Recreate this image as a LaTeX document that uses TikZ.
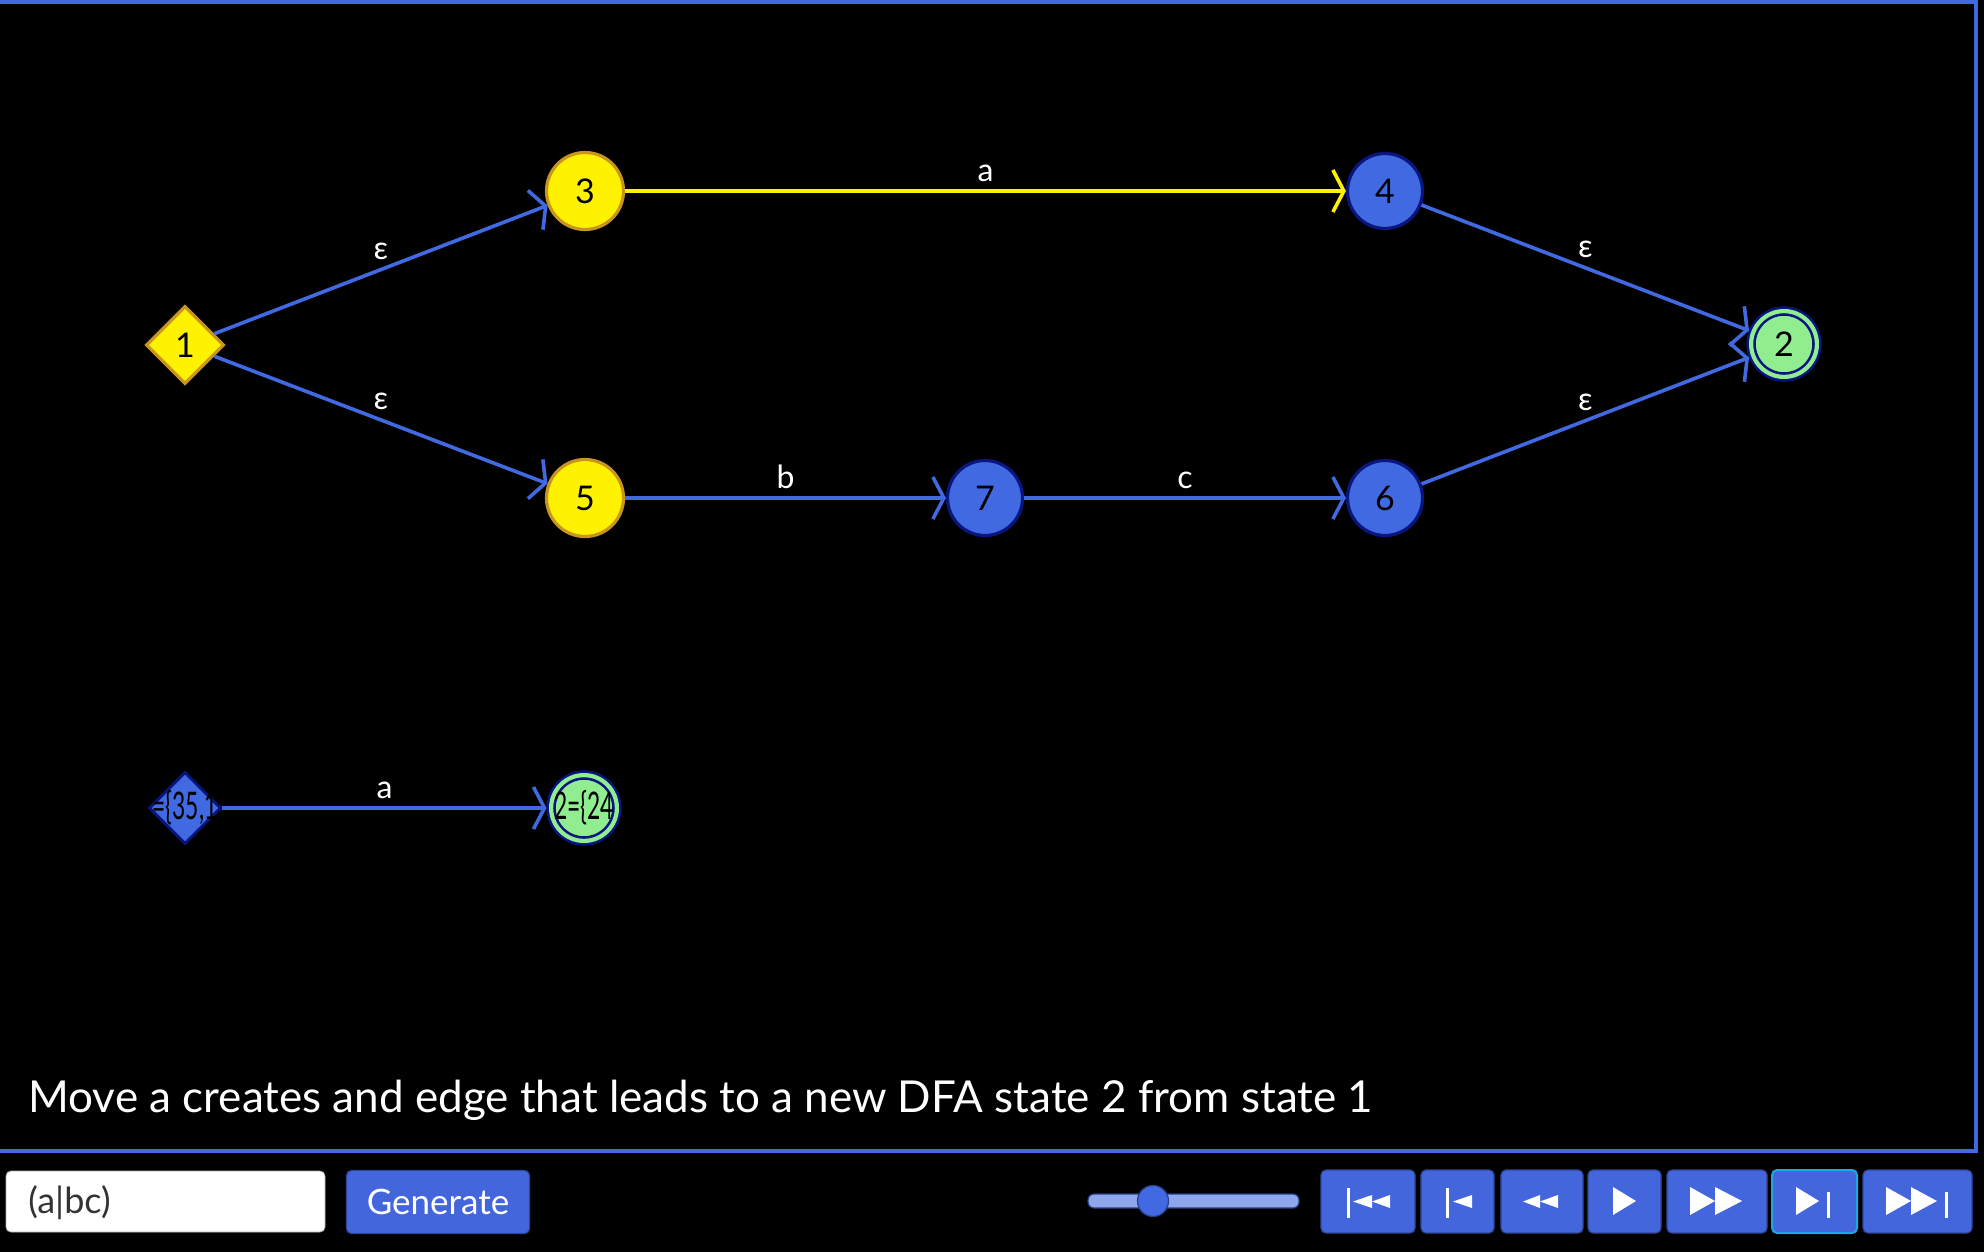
\documentclass[tikz,border=0pt]{standalone}
\usepackage{fontspec}
\setmainfont{Lato}
\usetikzlibrary{arrows.meta,shapes.geometric}

\definecolor{edgeBlue}{HTML}{4169E1}
\definecolor{stateNavy}{HTML}{0A1580}
\definecolor{startGold}{HTML}{C8961E}
\definecolor{finalGreen}{HTML}{90EE90}
\definecolor{panelBlue}{HTML}{4466DD}
\definecolor{activeCyan}{HTML}{1EA8E0}
\definecolor{trackBlue}{HTML}{8EA6EC}

\tikzset{
  nfa/.style={circle, inner sep=0pt, line width=1.6pt, text=black, font=\fontsize{17}{20}\selectfont},
  nfaYellow/.style={nfa, minimum size=38.5pt, fill=yellow, draw=startGold},
  nfaBlue/.style={nfa, minimum size=37.5pt, fill=edgeBlue, draw=stateNavy},
  startDia/.style={diamond, aspect=1, inner sep=0pt, line width=1.6pt, minimum size=39pt,
    fill=yellow, draw=startGold, text=black, font=\fontsize{17}{20}\selectfont},
  dfaStart/.style={diamond, aspect=1, inner sep=0pt, line width=1.4pt, minimum size=36pt,
    fill=edgeBlue, draw=stateNavy},
  finalState/.style={circle, inner sep=0pt, minimum size=32.9pt, fill=finalGreen, draw=stateNavy,
    line width=1.3pt, double=finalGreen, double distance=2.1pt, outer sep=2.3pt,
    text=black, font=\fontsize{17}{20}\selectfont},
  dfaText/.style={inner sep=0pt, text=black, font=\fontsize{19}{21}\selectfont},
  trans/.style={edgeBlue, line width=1.8pt, -{Straight Barb[length=5.5pt,width=21pt]}},
  lbl/.style={text=white, font=\fontsize{16}{19}\selectfont, anchor=base, yshift=5pt, inner sep=0pt},
  btn/.style={rectangle, rounded corners=2.5pt, fill=panelBlue, draw=panelBlue!70!black,
    line width=0.6pt, minimum height=31.5pt, inner sep=0pt},
}

\begin{document}
\begin{tikzpicture}[x=0.5pt,y=-0.5pt]
\useasboundingbox (0,0) rectangle (1984,1252);
\fill[black] (0,0) rectangle (1984,1252);

% panel frame
\draw[edgeBlue, line width=2pt] (0,2) -- (1976,2);
\draw[edgeBlue, line width=2pt] (1976,0) -- (1976,1153);
\draw[edgeBlue, line width=2pt] (0,1151) -- (1978,1151);

% NFA states
\node[startDia] (n1) at (185,345) {1};
\node[nfaYellow] (n3) at (585,191) {3};
\node[nfaYellow] (n5) at (585,498) {5};
\node[nfaBlue] (n7) at (985,498) {7};
\node[nfaBlue] (n4) at (1385,191) {4};
\node[nfaBlue] (n6) at (1385,498) {6};
\node[finalState] (n2) at (1784,344) {2};

% NFA transitions
\draw[trans] (n1) -- (n3) node[lbl, midway] {ε};
\draw[trans] (n1) -- (n5) node[lbl, midway] {ε};
\draw[trans, yellow] (n3) -- (n4) node[lbl, midway] {a};
\draw[trans] (n5) -- (n7) node[lbl, midway] {b};
\draw[trans] (n7) -- (n6) node[lbl, midway] {c};
\draw[trans] (n4) -- (n2) node[lbl, midway] {ε};
\draw[trans] (n6) -- (n2) node[lbl, midway] {ε};

% DFA states
\node[dfaStart] (d1) at (185,808) {};
\node[finalState] (d2) at (584,808) {};
\begin{scope}
  \clip (d1.north) -- (d1.east) -- (d1.south) -- (d1.west) -- cycle;
  \node[dfaText] (d1t) at (d1) {\scalebox{0.6}[1]{=\{35,1}};
\end{scope}
\begin{scope}
  \clip (d2.center) circle (18.5pt);
  \node[dfaText] (d2t) at (d2) {\scalebox{0.6}[1]{2=\{24}};
\end{scope}
\draw[trans] (d1) -- (d2) node[lbl, midway] {a};

% message
\node[anchor=base west, inner sep=0pt, text=white, font=\fontsize{22}{26}\selectfont] (msg) at (28,1112)
  {Move a creates and edge that leads to a new DFA state 2 from state 1};

% input and generate
\node[rectangle, draw=gray!60, fill=white, rounded corners=2.5pt, minimum width=159.5pt,
  minimum height=30.5pt, inner sep=0pt] (regex) at (165.5,1201.5) {};
\node[anchor=west, inner sep=0pt, text=black!80, font=\fontsize{18}{20}\selectfont] (regexText) at (28,1203) {(a|bc)};
\node[btn, minimum width=91.5pt, text=white, font=\fontsize{17.5}{20}\selectfont] (generate) at (438,1202) {Generate};

% speed slider
\draw[fill=trackBlue, draw=edgeBlue!60!black, line width=0.6pt, rounded corners=3pt] (1088,1194) rectangle (1299,1208);
\node[circle, minimum size=15.5pt, inner sep=0pt, fill=edgeBlue, draw=edgeBlue!60!black, line width=0.6pt] (knob) at (1153,1201) {};

% player buttons
\node[btn, minimum width=47pt] (first) at (1368,1201.5) {};
\node[btn, minimum width=36.5pt] (back) at (1457.5,1201.5) {};
\node[btn, minimum width=41pt] (rewind) at (1542,1201.5) {};
\node[btn, minimum width=36.5pt] (play) at (1624.5,1201.5) {};
\node[btn, minimum width=50pt] (fast) at (1717,1201.5) {};
\node[btn, minimum width=42.5pt, draw=activeCyan, line width=1pt] (step) at (1814.5,1201.5) {};
\node[btn, minimum width=54.5pt] (last) at (1917.5,1201.5) {};

% icons
\draw[white, line width=1.5pt] (1348,1188) -- (1348,1218);
\fill[white] (1353,1201.5) -- (1372,1195) -- (1372,1208) -- cycle;
\fill[white] (1372,1201.5) -- (1390,1195) -- (1390,1208) -- cycle;
\draw[white, line width=1.5pt] (1447,1188) -- (1447,1218);
\fill[white] (1453,1201.5) -- (1472,1195) -- (1472,1208) -- cycle;
\fill[white] (1523,1201.5) -- (1540,1195) -- (1540,1208) -- cycle;
\fill[white] (1540,1201.5) -- (1558,1195) -- (1558,1208) -- cycle;
\fill[white] (1613,1187) -- (1636,1201) -- (1613,1215) -- cycle;
\fill[white] (1690,1187) -- (1715,1201) -- (1690,1215) -- cycle;
\fill[white] (1715,1187) -- (1742,1201) -- (1715,1215) -- cycle;
\fill[white] (1796,1187) -- (1819,1201) -- (1796,1215) -- cycle;
\draw[white, line width=1.5pt] (1828,1192) -- (1828,1218);
\fill[white] (1886,1187) -- (1911,1201) -- (1886,1215) -- cycle;
\fill[white] (1911,1187) -- (1937,1201) -- (1911,1215) -- cycle;
\draw[white, line width=1.5pt] (1946,1192) -- (1946,1218);
\end{tikzpicture}
\end{document}
